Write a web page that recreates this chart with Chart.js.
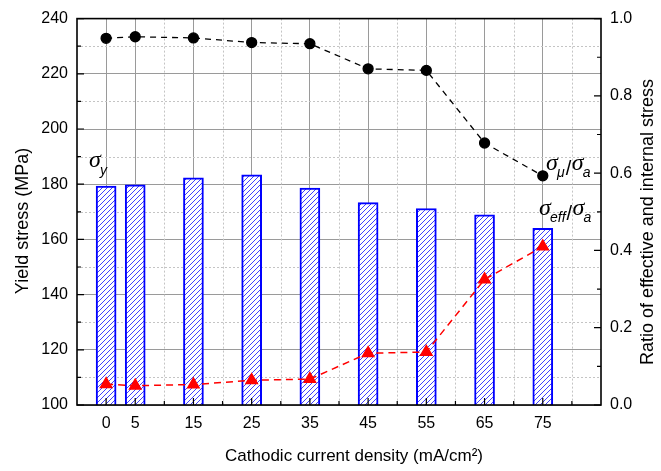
<!DOCTYPE html>
<html>
<head>
<meta charset="utf-8">
<script src="https://cdn.jsdelivr.net/npm/chart.js@4.4.1/dist/chart.umd.min.js"></script>
<style>
  html, body { margin: 0; padding: 0; background: #fff; }
  #wrap { width: 661px; height: 471px; }
</style>
</head>
<body>
<div id="wrap"><canvas id="stress-chart" width="661" height="471"></canvas></div>
<script>
// cathodic current density, mA/cm^2
const currentDensity = [0, 5, 15, 25, 35, 45, 55, 65, 75];
// yield stress, MPa (bars, left axis)
const yieldStress = [179.3, 179.8, 182.3, 183.4, 178.6, 173.3, 171.2, 168.9, 164.0];
// sigma_mu / sigma_a (right axis)
const internalRatio = [0.949, 0.953, 0.950, 0.938, 0.935, 0.870, 0.866, 0.678, 0.593];
// sigma_eff / sigma_a (right axis)
const effectiveRatio = [0.054, 0.050, 0.053, 0.064, 0.067, 0.134, 0.137, 0.325, 0.410];

const minorX = [10, 20, 30, 40, 50, 60, 70, 80];
const minorY = [110, 130, 150, 170, 190, 210, 230];
const minorY2 = [0.1, 0.3, 0.5, 0.7, 0.9];

const tickFont = { family: 'Liberation Sans, Arial, sans-serif', size: 16 };

function hatchPattern() {
    var c = document.createElement('canvas');
    c.width = 5; c.height = 5;
    var g = c.getContext('2d');
    g.fillStyle = '#fff';
    g.fillRect(0, 0, 5, 5);
    g.strokeStyle = '#2a2aff';
    g.lineWidth = 0.9;
    g.beginPath();
    g.moveTo(-1, 6); g.lineTo(6, -1);
    g.moveTo(-1, 1); g.lineTo(1, -1);
    g.moveTo(4, 6); g.lineTo(6, 4);
    g.stroke();
    return g.createPattern(c, 'repeat');
}

function pts(values) {
    return currentDensity.map((x, i) => ({ x: x, y: values[i] }));
}

// dotted minor grid, inward ticks, frame, titles and the sigma labels
const decorations = {
    id: 'decorations',
    beforeDatasetsDraw(chart) {
        const { ctx, chartArea: a, scales } = chart;
        ctx.save();
        ctx.strokeStyle = '#c4c4c4';
        ctx.lineWidth = 1;
        ctx.setLineDash([2, 2]);
        ctx.beginPath();
        minorX.forEach(v => {
            const x = Math.round(scales.x.getPixelForValue(v)) + 0.5;
            ctx.moveTo(x, a.top); ctx.lineTo(x, a.bottom);
        });
        minorY.forEach(v => {
            const y = Math.round(scales.y.getPixelForValue(v)) + 0.5;
            ctx.moveTo(a.left, y); ctx.lineTo(a.right, y);
        });
        ctx.stroke();
        ctx.restore();
    },
    afterDraw(chart) {
        const { ctx, chartArea: a, scales } = chart;
        ctx.save();
        ctx.strokeStyle = '#000';
        ctx.lineWidth = 1.2;
        ctx.beginPath();
        currentDensity.forEach(v => {
            const x = scales.x.getPixelForValue(v);
            ctx.moveTo(x, a.bottom); ctx.lineTo(x, a.bottom - 7);
        });
        minorX.forEach(v => {
            const x = scales.x.getPixelForValue(v);
            ctx.moveTo(x, a.bottom); ctx.lineTo(x, a.bottom - 4);
        });
        for (let v = 100; v <= 240; v += 20) {
            const y = scales.y.getPixelForValue(v);
            ctx.moveTo(a.left, y); ctx.lineTo(a.left + 7, y);
        }
        minorY.forEach(v => {
            const y = scales.y.getPixelForValue(v);
            ctx.moveTo(a.left, y); ctx.lineTo(a.left + 4, y);
        });
        for (let v = 0; v <= 1.0001; v += 0.2) {
            const y = scales.y2.getPixelForValue(v);
            ctx.moveTo(a.right, y); ctx.lineTo(a.right - 7, y);
        }
        minorY2.forEach(v => {
            const y = scales.y2.getPixelForValue(v);
            ctx.moveTo(a.right, y); ctx.lineTo(a.right - 4, y);
        });
        ctx.stroke();

        ctx.lineWidth = 1.6;
        ctx.strokeRect(a.left, a.top, a.right - a.left, a.bottom - a.top);

        // axis titles
        ctx.fillStyle = '#000';
        ctx.textAlign = 'center';
        ctx.textBaseline = 'middle';
        ctx.font = '17px "Liberation Sans", Arial, sans-serif';
        ctx.fillText('Cathodic current density (mA/cm²)', 354, 456);
        ctx.font = '18px "Liberation Sans", Arial, sans-serif';
        ctx.save();
        ctx.translate(23, 221);
        ctx.rotate(-Math.PI / 2);
        ctx.fillText('Yield stress (MPa)', 0, 0);
        ctx.restore();
        ctx.save();
        ctx.translate(648, 222);
        ctx.rotate(-Math.PI / 2);
        ctx.fillText('Ratio of effective and internal stress', 0, 0);
        ctx.restore();

        // sigma labels
        ctx.textAlign = 'left';
        ctx.textBaseline = 'alphabetic';
        const sig = '24px "Liberation Serif", serif';
        const sub = 'italic 14px "Liberation Sans", Arial, sans-serif';
        function ratio(x, y, s) {
            ctx.font = 'italic ' + sig;
            ctx.fillText('σ', x, y);
            ctx.font = sub;
            ctx.fillText(s, x + 11, y + 7);
            const w = ctx.measureText(s).width;
            ctx.font = '20px "Liberation Sans", Arial, sans-serif';
            ctx.fillText('/', x + 11 + w + 1, y + 5);
            ctx.font = 'italic ' + sig;
            ctx.fillText('σ', x + 11 + w + 7, y);
            ctx.font = sub;
            ctx.fillText('a', x + 11 + w + 18, y + 7);
        }
        ctx.font = 'italic ' + sig;
        ctx.fillText('σ', 89, 167);
        ctx.font = sub;
        ctx.fillText('y', 100, 175);
        ratio(546, 170, 'μ');
        ratio(539, 215, 'eff');
        ctx.restore();
    }
};

new Chart(document.getElementById('stress-chart'), {
    data: {
        datasets: [
            {
                type: 'bar',
                data: pts(yieldStress),
                yAxisID: 'y',
                backgroundColor: hatchPattern(),
                borderColor: '#0000ff',
                borderWidth: 2,
                borderSkipped: 'start',
                barThickness: 20,
                order: 3
            },
            {
                type: 'line',
                data: pts(internalRatio),
                yAxisID: 'y2',
                borderColor: '#000',
                borderWidth: 1.3,
                borderDash: [6, 5],
                pointStyle: 'circle',
                pointRadius: 5,
                pointBackgroundColor: '#000',
                pointBorderColor: '#000',
                order: 1
            },
            {
                type: 'line',
                data: pts(effectiveRatio),
                yAxisID: 'y2',
                borderColor: '#ff0000',
                borderWidth: 1.5,
                borderDash: [7, 5],
                pointStyle: 'triangle',
                pointRadius: 6.5,
                pointBackgroundColor: '#ff0000',
                pointBorderColor: '#ff0000',
                order: 2
            }
        ]
    },
    options: {
        responsive: false,
        animation: false,
        layout: { padding: { top: 14, left: 0, right: 0, bottom: 0 } },
        plugins: { legend: { display: false }, tooltip: { enabled: false } },
        scales: {
            x: {
                type: 'linear',
                min: -5,
                max: 85,
                offset: false,
                afterBuildTicks: s => { s.ticks = currentDensity.map(v => ({ value: v })); },
                afterFit: s => { s.height = 66; },
                grid: { color: '#9a9a9a', lineWidth: 1, drawTicks: false, offset: false },
                border: { display: false },
                ticks: { font: tickFont, color: '#000', padding: 9, maxRotation: 0, autoSkip: false }
            },
            y: {
                position: 'left',
                min: 100,
                max: 240,
                afterFit: s => { s.width = 77; },
                grid: { color: '#9a9a9a', lineWidth: 1, drawTicks: false },
                border: { display: false },
                ticks: { stepSize: 20, font: tickFont, color: '#000', padding: 9 }
            },
            y2: {
                position: 'right',
                min: 0,
                max: 1,
                afterFit: s => { s.width = 60; },
                grid: { display: false, drawTicks: false },
                border: { display: false },
                ticks: { stepSize: 0.2, font: tickFont, color: '#000', padding: 9,
                         callback: v => v.toFixed(1) }
            }
        }
    },
    plugins: [decorations]
});
</script>
</body>
</html>
